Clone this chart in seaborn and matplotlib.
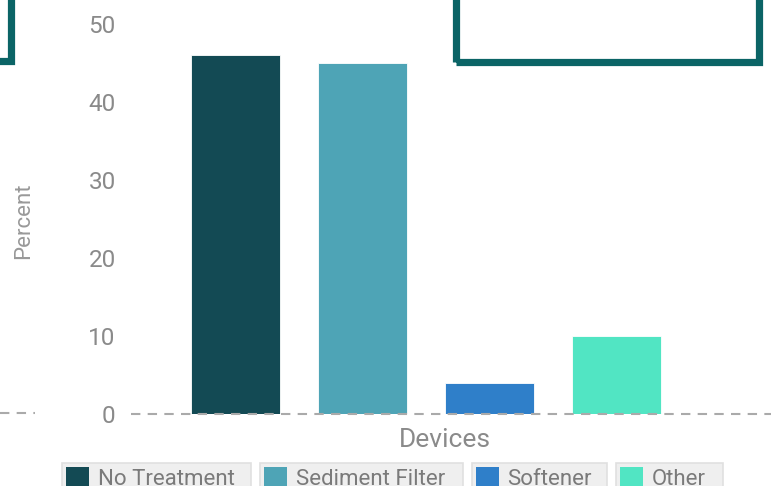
import matplotlib
matplotlib.use('Agg')
import matplotlib.pyplot as plt
import seaborn as sns
import pandas as pd
from matplotlib.patches import Rectangle
from matplotlib.lines import Line2D

# data
devices = ["No Treatment", "Sediment Filter", "Softener", "Other"]
percent = [46, 45, 4, 10]
bar_colors = ["#134a54", "#4ea4b6", "#2f7fc9", "#51e5c3"]
y_ticks = [0, 10, 20, 30, 40, 50]

sns.set_theme(style="white")
plt.rcParams['font.family'] = ['Roboto', 'DejaVu Sans']
TXT = '#8a8a8a'

W, H = 771, 486
fig = plt.figure(figsize=(W / 100, H / 100), dpi=100)
# axes: left edge 131px, zero line at 414px, top at 0px
ax = fig.add_axes([131 / W, (H - 414) / H, 640 / W, 414 / H])

df = pd.DataFrame({"device": devices, "percent": percent})
sns.barplot(data=df, x="device", y="percent", hue="device", palette=bar_colors,
            width=0.7, legend=False, ax=ax, edgecolor='white', linewidth=0.6,
            saturation=1)

ax.set_ylim(0, 414 / 7.8)
ax.set_xlim(-0.823, 4.217)
ax.set_yticks(y_ticks)
ax.set_xticks([])
ax.tick_params(axis='y', length=0, pad=11, labelsize=17.5, labelcolor=TXT)
sns.despine(ax=ax, left=True, bottom=True)

ax.axhline(0, color='#aaaaaa', linestyle=(0, (4.5, 3.5)), linewidth=1.5, zorder=5, clip_on=False)

ax.set_ylabel("Percent", fontsize=16, color='#999999')
ax.yaxis.set_label_coords(-0.152, 0.467)
ax.set_xlabel("Devices", fontsize=19, color=TXT)
ax.xaxis.set_label_coords(0.491, -0.035)

# one boxed legend per device
handles = [Rectangle((0, 0), 1, 1, facecolor=c, edgecolor='none') for c in bar_colors]
box_left = [62, 260, 472, 616]
box_right = [251, 463, 607, 723]
for h, lab, bl, br in zip(handles, devices, box_left, box_right):
    fig.patches.append(Rectangle((bl / W, -10 / H), (br - bl) / W, (H - 463 + 10) / H,
                                 transform=fig.transFigure, facecolor='#efefef',
                                 edgecolor='#e0e0e0', linewidth=1.2, zorder=0))
    lg = fig.legend([h], [lab], loc='upper left', bbox_to_anchor=(bl / W, 1 - 463 / H),
                    bbox_transform=fig.transFigure, frameon=False,
                    fontsize=16, handlelength=1.0, handleheight=1.0, handletextpad=0.4,
                    borderpad=0.2, borderaxespad=0)
    for t in lg.get_texts():
        t.set_color('#7a7a7a')

# neighbouring panel frames cut off by the crop
teal = '#0b6466'
fig.patches.append(Rectangle((-60 / W, 1 - 61 / H), 71 / W, 100 / H, transform=fig.transFigure,
                             facecolor='none', edgecolor=teal, linewidth=5.2))
fig.patches.append(Rectangle((455.5 / W, 1 - 62 / H), 303 / W, 100 / H, transform=fig.transFigure,
                             facecolor='none', edgecolor=teal, linewidth=5.2))
fig.lines.append(Line2D([0, 35 / W], [1 - 413 / H, 1 - 413 / H], transform=fig.transFigure,
                        color='#aaaaaa', linestyle=(0, (4.5, 3.5)), linewidth=1.5))

fig.savefig("out.png", dpi=100)
